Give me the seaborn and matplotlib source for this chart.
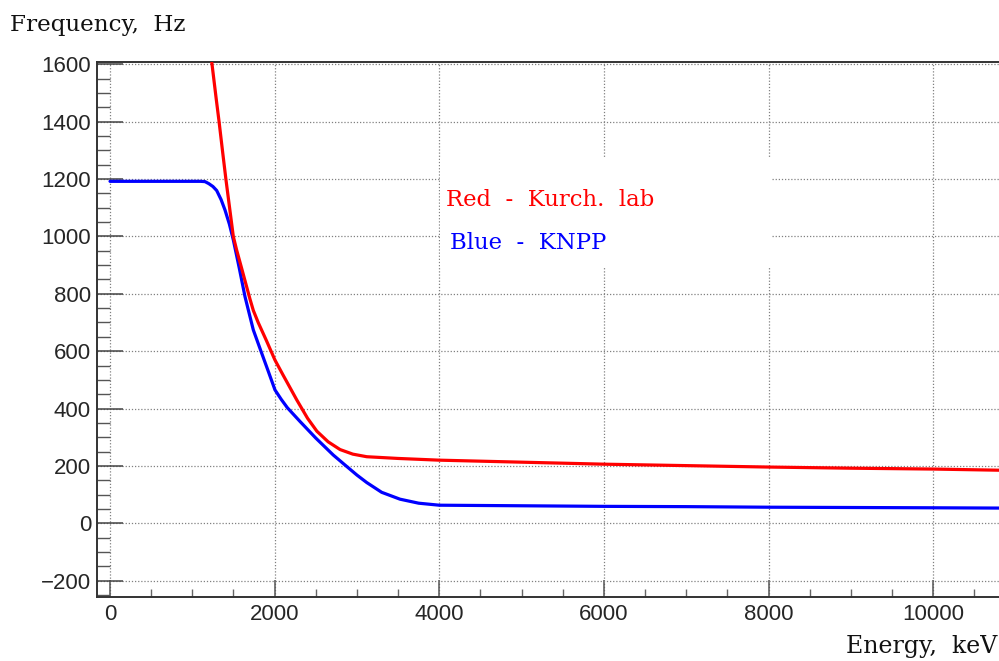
import numpy as np
import pandas as pd
import matplotlib
matplotlib.use("Agg")
import matplotlib.pyplot as plt
import seaborn as sns
from matplotlib.ticker import MultipleLocator
from matplotlib.patches import Rectangle

# ---- data ----
red_energy = [1236, 1290, 1325, 1370, 1409, 1455, 1498, 1538, 1600, 1650, 1700, 1741,
              1800, 1900, 2004, 2100, 2269, 2400, 2513, 2650, 2795, 2950, 3119, 3500,
              4000, 5000, 6000, 7000, 8000, 9000, 10000, 10800]
red_freq = [1608, 1480, 1400, 1290, 1197, 1095, 1000, 953, 888, 835, 782, 742,
            700, 637, 569, 518, 430, 366, 321, 284, 257, 241, 232, 226,
            220, 213, 206, 201, 196, 192, 189, 185]

blue_energy = [0, 1100, 1154, 1200, 1250, 1296, 1350, 1397, 1450, 1498, 1570, 1640,
               1741, 1830, 1920, 2004, 2080, 2154, 2308, 2500, 2712, 2876, 3000,
               3119, 3300, 3523, 3750, 4000, 5000, 6000, 7000, 8000, 9000, 10000, 10800]
blue_freq = [1192, 1192, 1191, 1184, 1174, 1160, 1128, 1092, 1043, 988, 890, 790,
             674, 603, 532, 465, 432, 403, 355, 297, 238, 198, 168,
             142, 108, 84, 70, 63, 61, 59, 58, 56, 55, 54, 53]

y_title = "Frequency,  Hz"
x_title = "Energy,  keV"
red_label = "Red  -  Kurch.  lab"
blue_label = "Blue  -  KNPP"

sns.set_style("white")
plt.rcParams["font.family"] = ["Liberation Sans", "DejaVu Sans"]

W, H = 999, 661
fig = plt.figure(figsize=(W / 100, H / 100), dpi=100)
ax = fig.add_axes([97 / W, 1 - 597 / H, 1 - 97 / W, (597 - 62) / H])

df_red = pd.DataFrame({"Energy": red_energy, "Frequency": red_freq})
df_blue = pd.DataFrame({"Energy": blue_energy, "Frequency": blue_freq})

sns.lineplot(data=df_blue, x="Energy", y="Frequency", color="#0000ff", lw=2.3,
             estimator=None, sort=False, ax=ax, zorder=3)
sns.lineplot(data=df_red, x="Energy", y="Frequency", color="#ff0000", lw=2.3,
             estimator=None, sort=False, ax=ax, zorder=3)

ax.set_xlim(-158, 10800)
ax.set_ylim(-257, 1608)
ax.set_xlabel("")
ax.set_ylabel("")

ax.xaxis.set_major_locator(MultipleLocator(2000))
ax.xaxis.set_minor_locator(MultipleLocator(500))
ax.yaxis.set_major_locator(MultipleLocator(200))
ax.yaxis.set_minor_locator(MultipleLocator(50))

ax.set_axisbelow(True)
ax.grid(True, which="major", color="#808080", linestyle=(0, (1, 1.5)), linewidth=0.9)
ax.grid(False, which="minor")

ax.tick_params(axis="y", which="major", direction="in", length=18.7, width=1.1,
               color="#444444", labelsize=16, pad=4.3, left=True)
ax.tick_params(axis="y", which="minor", direction="in", length=9.2, width=1.0,
               color="#555555", left=True)
ax.tick_params(axis="x", which="major", direction="in", length=12.2, width=1.1,
               color="#555555", labelsize=16, pad=5, bottom=True)
ax.tick_params(axis="x", which="minor", direction="in", length=5.8, width=1.0,
               color="#666666", bottom=True)

for side in ["left", "bottom", "top"]:
    ax.spines[side].set_color("#333333")
    ax.spines[side].set_linewidth(1.4)
ax.spines["right"].set_visible(False)

# white pave behind the legend text (hides the grid there)
ax.add_patch(Rectangle((4012, 891), 4030, 384, facecolor="white", edgecolor="none",
                       zorder=1.5))

serif = ["DejaVu Serif"]
fig.text(10 / W, 1 - 31 / H, y_title, family=serif, fontsize=16.6, color="#111111",
         ha="left", va="baseline")
fig.text(997 / W, 1 - 653 / H, x_title, family=serif, fontsize=17, color="#111111",
         ha="right", va="baseline")
fig.text(446 / W, 1 - 206 / H, red_label, family=serif, fontsize=16.4, color="#ff0000",
         ha="left", va="baseline")
fig.text(450 / W, 1 - 249 / H, blue_label, family=serif, fontsize=16.4, color="#0000ff",
         ha="left", va="baseline")

fig.savefig("out.png", dpi=100)
